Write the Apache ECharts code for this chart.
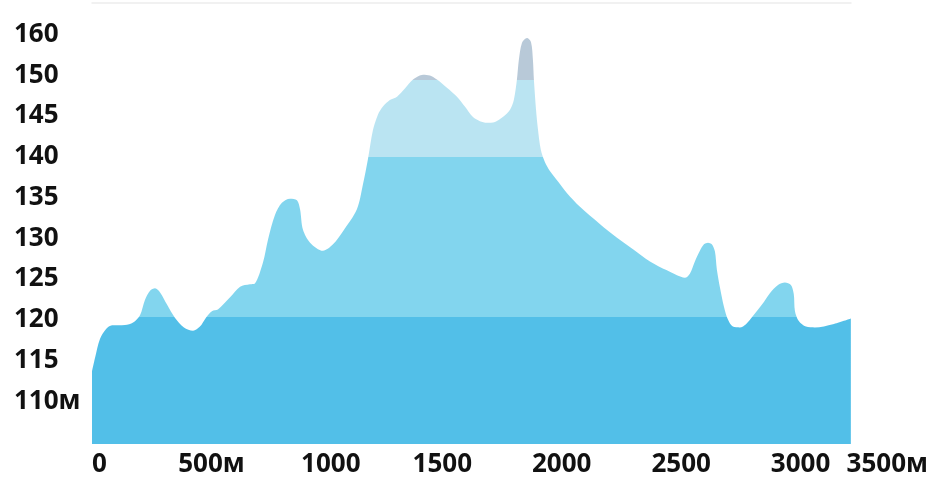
<!DOCTYPE html>
<html>
<head>
<meta charset="utf-8">
<script src="https://cdn.jsdelivr.net/npm/echarts@6/dist/echarts.min.js"></script>
<style>html,body{margin:0;padding:0;background:#fff}#c{width:937px;height:478px}</style>
</head>
<body>
<div id="c"></div>
<script>
// distance (m) along the route
var distances = [0,13,33,59,84,138,172,201,222,243,264,285,314,347,385,423,452,477,502,527,578,620,661,682,716,737,766,795,829,858,871,883,913,967,1009,1051,1109,1134,1155,1176,1197,1218,1247,1277,1310,1344,1386,1415,1444,1486,1528,1561,1595,1624,1653,1687,1720,1750,1766,1779,1787,1800,1821,1838,1846,1850,1859,1867,1879,1896,1917,1951,1988,2043,2126,2198,2265,2336,2407,2449,2482,2503,2524,2545,2562,2579,2595,2608,2616,2629,2646,2662,2683,2712,2738,2767,2805,2838,2872,2901,2926,2938,2943,2959,2989,3026,3102,3177];
// altitude (m)
var altitudes = [113.3,115.0,117.25,118.5,118.96,119.0,119.3,120.2,122.1,123.2,123.5,123.0,121.5,119.9,118.7,118.3,118.8,119.9,120.7,120.9,122.4,123.7,124.0,124.1,126.7,129.5,132.5,134.0,134.5,134.3,133.2,130.7,129.1,128.1,128.9,130.5,133.2,136.2,139.3,142.9,144.8,145.8,146.6,147.0,148.0,149.1,149.7,149.6,149.1,148.1,147.0,145.8,144.5,144.0,143.8,143.9,144.5,145.4,146.6,149.1,151.5,153.6,154.2,153.7,151.5,149.1,145.4,143.0,140.5,139.0,137.9,136.6,135.2,133.5,131.4,129.7,128.3,126.8,125.7,125.1,124.8,125.3,126.8,128.1,128.9,129.1,128.9,128.0,125.8,123.6,121.2,119.7,118.8,118.7,119.1,120.1,121.5,122.9,123.9,124.2,123.9,122.8,120.7,119.5,118.8,118.7,119.1,119.8];
var xTickLabels = ['0','500м','1000','1500','2000','2500','3000','3500м'];
var yTickValues = [110,115,120,125,130,135,140,145,150,155];
var yTickLabels = ['110м','115','120','125','130','135','140','145','150','160'];
var bandLimits = [120,139.6,149];
var bandColors = ['#52bfe8','#82d5ee','#bae4f2','#b8c9d8'];

var seriesData = distances.map(function(d,i){return [d, altitudes[i]];});
var font = {fontFamily:'Open Sans', fontWeight:'bold', fontSize:26, color:'#111'};
var richStyle = Object.assign({}, font);
var richShift = Object.assign({padding:[0,16,0,0]}, font);
var richDown = Object.assign({padding:[6,0,0,0]}, font);

var chart = echarts.init(document.getElementById('c'), null, {renderer:'canvas'});
chart.setOption({
  animation:false,
  grid:[
    {left:92, right:9, top:3, bottom:33},
    {left:92, width:759, top:2, height:1}
  ],
  xAxis:[{
    type:'value', gridIndex:0, min:0, max:3500, interval:500,
    axisLine:{show:false}, axisTick:{show:false}, splitLine:{show:false},
    axisLabel:Object.assign({margin:8, alignMinLabel:'left', alignMaxLabel:'right',
      rich:{a:richStyle, s:richShift},
      formatter:function(v){
        var i = Math.round(v/500);
        var key = (i >= 3 && i <= 6) ? 's' : 'a';
        return '{' + key + '|' + xTickLabels[i] + '}';
      }}, font)
  },{
    type:'value', gridIndex:1, position:'top', min:0, max:1,
    axisLine:{show:true, lineStyle:{color:'#ededed', width:1.5}},
    axisTick:{show:false}, axisLabel:{show:false}, splitLine:{show:false}
  }],
  yAxis:[{
    type:'value', gridIndex:0, min:104.4, max:158.5,
    axisLine:{show:false}, axisTick:{show:false}, splitLine:{show:false},
    axisLabel:Object.assign({margin:78, align:'left', customValues:yTickValues,
      rich:{d:richDown},
      formatter:function(v){var i=yTickValues.indexOf(v);return i>=0?'{d|'+yTickLabels[i]+'}':'';}}, font)
  },{
    type:'value', gridIndex:1, show:false
  }],
  visualMap:{
    type:'piecewise', show:false, dimension:1, seriesIndex:0,
    pieces:[
      {lte:bandLimits[0], color:bandColors[0]},
      {gt:bandLimits[0], lte:bandLimits[1], color:bandColors[1]},
      {gt:bandLimits[1], lte:bandLimits[2], color:bandColors[2]},
      {gt:bandLimits[2], color:bandColors[3]}
    ]
  },
  series:[{
    type:'line', xAxisIndex:0, yAxisIndex:0, data:seriesData,
    smooth:0.3, showSymbol:false, symbol:'none',
    lineStyle:{width:0},
    areaStyle:{opacity:1}
  }]
});
</script>
</body>
</html>
